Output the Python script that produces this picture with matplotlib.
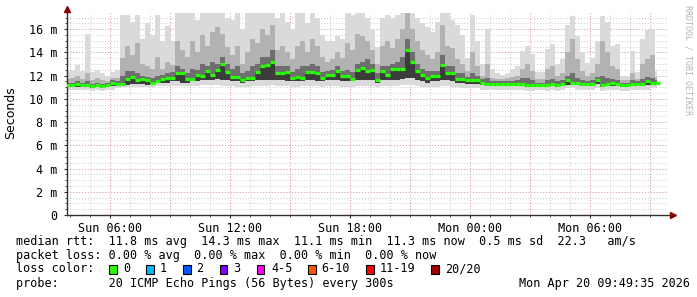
import numpy as np
import matplotlib
matplotlib.use("Agg")
import matplotlib.pyplot as plt
from matplotlib.patches import Rectangle
from matplotlib.ticker import MultipleLocator, FixedLocator

# time axis: hours since Sun 00:00, one sample every 15 min
start_hour = 3.826
step_hour = 0.25

median = [
    11.2, 11.2, 11.3, 11.2, 11.2, 11.1, 11.2, 11.1, 11.2, 11.4, 11.3,
    11.3, 11.7, 11.9, 11.6, 11.7, 11.6, 11.4, 11.5, 11.7, 11.8, 11.8, 12.2, 12.2, 11.7, 11.7, 12.1, 12.0, 12.4, 12.1, 12.5,
    13.0, 12.3, 11.9, 11.9, 11.6, 11.8, 11.8, 12.3, 12.8, 12.9, 13.2, 12.2, 12.2, 12.3, 11.8, 11.9, 11.8, 12.3, 12.3, 12.2,
    11.8, 12.1, 12.1, 12.4, 12.0, 12.0, 11.7, 12.5, 12.7,
    12.4, 12.5, 11.6, 12.4, 12.1, 12.6, 12.6, 12.6, 14.2, 13.2, 12.4, 12.1, 11.8, 12.0, 12.0, 12.9, 12.2, 12.2, 11.7, 11.7,
    11.6, 11.6, 11.6, 11.4, 11.3, 11.3, 11.3, 11.3, 11.3, 11.3,
    11.3, 11.3, 11.2, 11.2, 11.2, 11.2, 11.2, 11.3, 11.2, 11.3, 11.6, 11.4, 11.4, 11.3, 11.3, 11.3, 11.6, 11.2, 11.3, 11.4,
    11.3, 11.2, 11.2, 11.3, 11.3, 11.3, 11.5, 11.4, 11.4,
]

smoke_max = [
    12.4, 12.5, 12.9, 12.4, 15.6, 12.3, 12.5, 12.2, 12.0, 12.3, 12.5,
    17.2, 17.2, 16.6, 17.2, 15.2, 16.5, 15.5, 17.2, 15.0, 16.3, 15.0, 17.4, 17.4, 17.4, 17.4, 16.8, 17.4, 17.4, 17.4, 17.4,
    17.4, 17.0, 16.8, 17.4, 16.0, 17.4, 17.4, 17.4, 17.4, 17.4, 17.4, 17.0, 17.4, 16.6, 16.0, 17.4, 17.4, 16.5, 17.4, 17.0,
    15.5, 15.0, 15.0, 15.4, 15.2, 17.4, 17.2, 17.4, 17.4,
    17.0, 16.0, 14.5, 17.0, 17.2, 17.0, 17.2, 17.4, 17.4, 17.4, 17.0, 16.5, 16.2, 15.8, 16.6, 17.4, 17.4, 16.8, 16.4, 15.5,
    13.5, 17.2, 15.0, 13.0, 16.0, 12.6, 12.2, 12.1, 12.2, 12.6,
    12.8, 14.1, 14.6, 13.9, 12.3, 12.3, 14.3, 14.7, 13.0, 13.4, 16.4, 17.1, 15.4, 14.0, 13.1, 13.5, 15.0, 17.1, 16.6, 14.6,
    14.7, 12.0, 11.9, 14.1, 12.3, 15.2, 15.9, 15.9, 12.4,
]

smoke_mid = [
    11.7, 11.8, 12.0, 11.7, 12.2, 11.6, 11.8, 11.6, 11.5, 11.8, 11.8,
    13.5, 14.6, 13.8, 14.8, 13.0, 12.8, 12.6, 13.6, 12.6, 13.2, 12.9, 15.0, 14.2, 13.6, 15.0, 14.0, 15.5, 14.6, 15.8, 16.2,
    15.6, 14.5, 13.8, 14.6, 13.0, 14.0, 15.2, 14.8, 16.0, 15.5, 16.4, 14.2, 14.6, 14.0, 13.4, 14.6, 15.0, 14.0, 15.2, 14.6,
    13.6, 13.2, 13.4, 14.0, 13.5, 14.8, 14.2, 15.6, 15.4,
    15.0, 14.2, 13.0, 14.6, 15.0, 14.4, 15.2, 16.0, 17.4, 16.0, 15.0, 14.2, 13.8, 13.4, 14.0, 16.4, 14.6, 14.4, 13.4, 13.0,
    12.4, 14.0, 12.8, 12.0, 13.0, 11.8, 11.7, 11.7, 11.8, 11.9,
    12.0, 12.6, 13.0, 12.4, 11.7, 11.7, 12.6, 12.8, 12.0, 12.2, 14.0, 15.2, 13.4, 12.4, 12.0, 12.2, 13.0, 15.0, 14.0, 12.8,
    12.6, 11.6, 11.6, 12.2, 11.7, 13.0, 13.4, 13.8, 11.9,
]

smoke_dark = [
    11.4, 11.4, 11.5, 11.4, 11.5, 11.3, 11.4, 11.3, 11.4, 11.6, 11.5,
    12.0, 12.4, 12.4, 12.2, 12.0, 11.9, 11.8, 12.0, 12.1, 12.2, 12.3, 12.8, 12.6, 12.2, 12.6, 12.5, 13.0, 12.8, 13.2, 13.0,
    13.6, 13.0, 12.6, 12.8, 12.2, 12.4, 12.8, 13.0, 13.6, 13.6, 14.2, 12.8, 12.8, 12.8, 12.3, 12.6, 12.8, 12.8, 13.0, 12.8,
    12.3, 12.4, 12.5, 12.8, 12.4, 12.5, 12.3, 13.0, 13.2,
    13.4, 13.0, 12.2, 12.8, 12.8, 13.0, 13.2, 13.6, 15.2, 14.0, 13.0, 12.6, 12.4, 12.4, 12.4, 13.8, 12.8, 12.8, 12.2, 12.2,
    11.9, 12.2, 12.0, 11.7, 11.8, 11.5, 11.5, 11.5, 11.5, 11.5,
    11.6, 11.8, 11.8, 11.6, 11.4, 11.4, 11.6, 11.7, 11.5, 11.6, 12.0, 12.2, 11.8, 11.6, 11.5, 11.6, 11.9, 12.0, 11.8, 11.7,
    11.6, 11.4, 11.4, 11.6, 11.5, 11.7, 11.9, 11.8, 11.6,
]

smoke_lo = [
    11.0, 11.0, 11.0, 11.0, 11.0, 10.9, 11.0, 10.9, 11.0, 11.1, 11.1,
    11.2, 11.2, 11.3, 11.3, 11.3, 11.2, 11.3, 11.4, 11.4, 11.4, 11.5, 11.5, 11.4, 11.4, 11.5, 11.5, 11.6, 11.6, 11.6, 11.7,
    11.6, 11.6, 11.5, 11.5, 11.4, 11.5, 11.5, 11.6, 11.6, 11.6, 11.6, 11.6, 11.6, 11.5, 11.5, 11.5, 11.5, 11.6, 11.6, 11.5,
    11.5, 11.6, 11.6, 11.6, 11.5, 11.5, 11.5, 11.6, 11.6,
    11.6, 11.6, 11.4, 11.6, 11.6, 11.6, 11.6, 11.7, 11.8, 11.8, 11.6, 11.5, 11.4, 11.5, 11.5, 11.6, 11.6, 11.5, 11.4, 11.4,
    11.3, 11.3, 11.3, 11.2, 11.1, 11.1, 11.1, 11.1, 11.1, 11.1,
    11.1, 11.1, 11.0, 11.0, 11.0, 11.0, 11.0, 11.1, 11.0, 11.1, 11.2, 11.2, 11.2, 11.1, 11.1, 11.1, 11.3, 11.0, 11.1, 11.1,
    11.1, 11.0, 11.0, 11.1, 11.1, 11.1, 11.2, 11.2, 11.2,
]

smoke_min = [
    10.8, 10.8, 10.8, 10.8, 10.8, 10.7, 10.8, 10.7, 10.8, 10.8, 10.9,
    11.0, 11.0, 11.0, 11.0, 11.0, 11.0, 11.0, 11.1, 11.1, 11.1, 11.1, 11.1, 11.1, 11.1, 11.1, 11.1, 11.2, 11.2, 11.2, 11.2,
    11.1, 11.1, 11.1, 11.0, 11.0, 11.0, 11.1, 11.1, 11.1, 11.1, 11.2, 11.1, 11.1, 11.1, 11.0, 11.0, 11.1, 11.1, 11.1, 11.1,
    11.0, 11.1, 11.1, 11.1, 11.0, 11.0, 11.0, 11.1, 11.1,
    11.1, 11.1, 11.0, 11.1, 11.1, 11.1, 11.1, 11.2, 11.2, 11.2, 11.1, 11.0, 11.0, 11.0, 11.0, 11.1, 11.1, 11.0, 11.0, 10.9,
    10.9, 10.9, 10.9, 10.8, 10.8, 10.8, 10.8, 10.8, 10.8, 10.8,
    10.8, 10.8, 10.7, 10.7, 10.8, 10.8, 10.7, 10.8, 10.7, 10.8, 10.9, 10.9, 10.8, 10.8, 10.8, 10.8, 10.9, 10.7, 10.8, 10.8,
    10.8, 10.7, 10.7, 10.8, 10.8, 10.8, 10.8, 10.9, 10.9,
]

x_ticks = [6, 12, 18, 24, 30]
x_labels = ["Sun 06:00", "Sun 12:00", "Sun 18:00", "Mon 00:00", "Mon 06:00"]

loss_labels = ["0", "1", "2", "3", "4-5", "6-10", "11-19", "20/20"]
loss_colors = ["#26ff00", "#00b8ff", "#0059ff", "#7e00ff", "#ff00ff", "#ff5500", "#ff0000", "#a00000"]

stats_lines = [
    "median rtt:  11.8 ms avg  14.3 ms max  11.1 ms min  11.3 ms now  0.5 ms sd  22.3   am/s",
    "packet loss: 0.00 % avg  0.00 % max  0.00 % min  0.00 % now",
    "loss color:",
    "probe:       20 ICMP Echo Pings (56 Bytes) every 300s",
]
stamp = "Mon Apr 20 09:49:35 2026"

W, H = 697, 297
mono = "DejaVu Sans Mono"
fs = 8.5

fig = plt.figure(figsize=(W / 100, H / 100), dpi=100, facecolor="white")
ax = fig.add_axes([67 / W, 1 - 215 / H, 600 / W, 202 / H])
ax.set_facecolor("white")

t = start_hour + step_hour * np.arange(len(median))
ax.fill_between(t, smoke_min, smoke_max, step="mid", color="#dadada", lw=0)
ax.fill_between(t, smoke_lo, smoke_mid, step="mid", color="#b2b2b2", lw=0)
ax.fill_between(t, smoke_lo, smoke_dark, step="mid", color="#6e6e6e", lw=0)
ax.fill_between(t, smoke_lo, median, step="mid", color="#3c3c3c", lw=0)
# median drawn as short flat dashes, one per sample
ax.hlines(median, t - step_hour / 2, t + step_hour / 2, color="#26ff00", lw=2.3, zorder=3)

ax.set_xlim(start_hour, start_hour + 30)
ax.set_ylim(0, 17.4)

# grid: gray dotted minor, red dotted major
for h in np.arange(4, 34, 1):
    ax.axvline(h, color="#c8c8c8", lw=0.7, ls=(0, (1, 2)), zorder=0.5)
for h in np.arange(6, 34, 3):
    ax.axvline(h, color="#e0a0a0", lw=0.7, ls=(0, (1, 2)), zorder=0.6)
for v in np.arange(0.5, 17.4, 0.5):
    ax.axhline(v, color="#c8c8c8", lw=0.7, ls=(0, (1, 2)), zorder=0.5)
for v in np.arange(2, 17.4, 2):
    ax.axhline(v, color="#e0a0a0", lw=0.7, ls=(0, (1, 2)), zorder=0.6)

for s in ax.spines.values():
    s.set_visible(False)

# axes lines with arrows
ax.plot([0, 0], [0, 1.015], transform=ax.transAxes, color="#303030", lw=1, clip_on=False)
ax.plot([0, 1.008], [0, 0], transform=ax.transAxes, color="#303030", lw=1, clip_on=False)
ax.plot([0], [1.02], marker="^", ms=4, color="#8b0000", transform=ax.transAxes, clip_on=False)
ax.plot([1.01], [0], marker=">", ms=4, color="#8b0000", transform=ax.transAxes, clip_on=False)

ax.xaxis.set_major_locator(FixedLocator(x_ticks))
ax.set_xticklabels(x_labels, fontsize=fs, family=mono)
ax.xaxis.set_minor_locator(MultipleLocator(1))
ax.yaxis.set_major_locator(MultipleLocator(2))
ax.yaxis.set_minor_locator(MultipleLocator(0.5))
ax.set_yticklabels([("%d m" % v) if v > 0 else "0" for v in ax.get_yticks()], fontsize=fs, family=mono)
ax.tick_params(axis="both", which="major", length=2, width=0.8, color="#303030", pad=3)
ax.tick_params(axis="both", which="minor", length=1.5, width=0.6, color="#303030")
ax.tick_params(axis="y", pad=5)

fig.text(11 / W, 1 - 113 / H, "Seconds", rotation=90, ha="center", va="center", fontsize=9, family="DejaVu Sans")
fig.text(688 / W, 1 - 60 / H, "RRDTOOL / TOBI OETIKER", rotation=270, ha="center", va="center",
         fontsize=6, family=mono, color="#b4b4b4")

row_y = [241, 255.5, 269, 283.5]
for txt, y in zip(stats_lines, row_y):
    fig.text(16.5 / W, 1 - y / H, txt, ha="left", va="center", fontsize=fs, family=mono)
fig.text(690 / W, 1 - row_y[3] / H, stamp, ha="right", va="center", fontsize=fs, family=mono)

sw_x = [109, 146, 183, 219.5, 256.5, 308, 366, 431]
lab_x = [123, 160, 196.5, 233, 271, 321.5, 380, 445]
for sx, lx, lab, col in zip(sw_x, lab_x, loss_labels, loss_colors):
    fig.patches.append(Rectangle((sx / W, 1 - 273.5 / H), 7.5 / W, 9 / H, transform=fig.transFigure,
                                 facecolor=col, edgecolor="black", lw=0.8))
    fig.text(lx / W, 1 - row_y[2] / H, lab, ha="left", va="center", fontsize=fs, family=mono)

fig.savefig("out.png", dpi=100, facecolor="white")
